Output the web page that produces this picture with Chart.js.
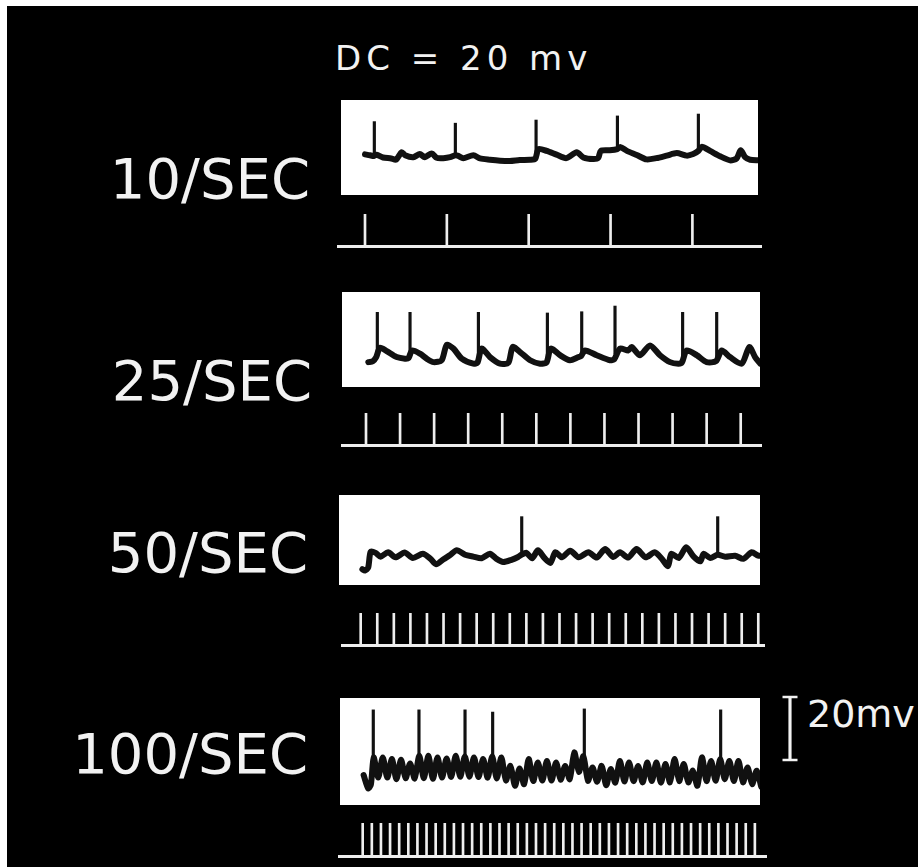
<!DOCTYPE html>
<html>
<head>
<meta charset="utf-8">
<title>Responses at four stimulus rates</title>
<script src="https://cdn.jsdelivr.net/npm/chart.js@4.4.1/dist/chart.umd.min.js"></script>
<style>
  html, body { margin: 0; padding: 0; background: #fff; }
  #stage { position: relative; width: 918px; height: 867px; background: #fff; overflow: hidden; }
  #black { position: absolute; left: 7px; top: 6px; right: 0; bottom: 0; background: #000; }
  canvas { position: absolute; }
  .label { position: absolute; color: #f2f2f2; font-family: "DejaVu Sans", sans-serif; line-height: 1; white-space: nowrap; }
  .rate { left: 0; width: 310px; text-align: right; font-size: 56px; }
</style>
</head>
<body>
<div id="stage">
  <div id="black"></div>
  <div class="label" style="left:335px; top:41px; font-size:34px; letter-spacing:5px;">DC = 20 mv</div>
  <div class="label rate" style="top:151px;">10/SEC</div>
  <div class="label rate" style="top:353px; width:312px;">25/SEC</div>
  <div class="label rate" style="top:525px; width:308px;">50/SEC</div>
  <div class="label rate" style="top:726px; width:308px;">100/SEC</div>
  <div class="label" style="left:807px; top:695px; font-size:38px;">20mv</div>
</div>

<script>
// ---- data (time in ms from first stimulus, potential in mV above panel floor) ----
const rateLabels = ["10/SEC", "25/SEC", "50/SEC", "100/SEC"];

// stimulus times (ms)
const stim10 = [0, 100, 200, 300, 400];
const stim25 = [0, 40, 80, 120, 160, 200, 240, 280, 320, 360, 400, 440];
const stim50 = [0, 20, 40, 60, 80, 100, 120, 140, 160, 180, 200, 220, 240,
  260, 280, 300, 320, 340, 360, 380, 400, 420, 440, 460, 480];
const stim100 = [0, 10, 20, 30, 40, 50, 60, 70, 80, 90, 100, 110, 120, 130,
  140, 150, 160, 170, 180, 190, 200, 210, 220, 230, 240, 250, 260, 270, 280,
  290, 300, 310, 320, 330, 340, 350, 360, 370, 380, 390, 400, 410, 420, 430];

// slow membrane trace [t, mV]
const trace10 = [[0, 12.9], [6, 12.6], [11, 12.4], [14, 12.8], [22, 11.9], [32, 11.6],
  [38, 11.2], [44.8, 13.6], [49, 12.6], [59, 12.0], [67, 13.0], [73, 12.0], [81.5, 13.2],
  [87.6, 11.8], [95.7, 11.7], [104, 12.0], [110.4, 12.6], [114, 12.4], [120, 11.7],
  [132.4, 12.6], [140.5, 11.6], [152.7, 11.2], [165, 10.9], [177, 10.8], [189, 11.1],
  [201.6, 11.2], [208, 11.5], [212, 14.6], [222, 14.0], [234, 12.8], [246, 11.7],
  [258.7, 13.6], [266.8, 11.9], [279, 11.4], [285, 11.8], [288, 14.0], [299, 14.2],
  [308.4, 14.6], [312, 15.2], [320, 14.0], [332, 12.7], [344, 11.3], [356, 11.7],
  [368.6, 12.5], [380.9, 13.3], [393, 12.5], [401, 13.0], [407.3, 14.0], [411.4, 15.3],
  [421.6, 14.0], [433.8, 12.3], [446, 11.0], [454, 11.6], [459, 14.2], [464.4, 12.0],
  [470.5, 11.2], [481, 11.0]];

const trace25 = [[2.7, 7.9], [8, 8.2], [12, 9.5], [16.4, 12.5], [24.3, 11.4], [36, 9.5],
  [45.8, 9.0], [50, 9.2], [54, 11.6], [63.4, 10.6], [71.2, 9.0], [79.1, 7.9], [88.9, 8.5],
  [94.8, 13.4], [102.6, 12.2], [112.4, 9.0], [126, 7.4], [131, 7.8], [135.8, 12.2],
  [145.6, 9.5], [157.4, 7.4], [167.2, 7.7], [172.3, 12.7], [180.9, 11.1], [192.7, 8.5],
  [204.4, 7.4], [212, 7.8], [217, 12.2], [227.8, 10.1], [239.5, 8.5], [249.3, 9.5],
  [252.5, 9.8], [257.2, 11.6], [270.9, 10.1], [286.6, 8.5], [291.5, 8.8], [298.3, 12.2],
  [308, 11.6], [312, 12.7], [321.7, 10.1], [333.5, 13.2], [345.2, 10.1], [357, 7.9],
  [366.8, 7.4], [371, 7.8], [376.5, 11.6], [388.3, 10.1], [400, 7.9], [411, 8.2],
  [417.7, 11.6], [427.5, 9.5], [441.2, 7.4], [450.2, 12.7], [456.9, 9.5], [463, 7.4]];

const trace50 = [[2, 5.0], [5, 4.6], [9, 5.5], [12, 10.5], [18, 10.2], [24, 9.0], [33, 10.4],
  [42, 8.8], [53, 10.3], [63, 8.6], [75, 9.9], [84, 8.4], [91, 6.6], [100, 8.2], [108, 9.5],
  [116, 11.0], [126, 9.6], [136, 9.0], [146, 8.5], [156, 9.9], [164, 8.3], [172, 7.3],
  [182, 8.0], [190, 8.9], [194, 9.6], [200, 10.2], [207, 8.5], [214, 11.0], [222, 8.5],
  [229, 7.0], [235, 10.4], [243, 8.8], [253, 10.9], [263, 8.8], [275, 10.4], [285, 8.7],
  [295, 11.4], [305, 8.9], [313, 10.4], [323, 8.7], [333, 11.4], [344, 8.8], [355, 10.4],
  [363, 8.5], [371, 6.0], [375, 9.9], [384, 8.6], [393, 12.0], [402, 9.0], [410, 7.5],
  [414, 9.9], [422, 8.6], [431, 9.6], [440, 9.0], [452, 9.3], [462, 8.3], [472, 10.4],
  [480, 9.3], [484, 9.3]];

const trace100 = [[1, 9.5], [6, 5.3], [9, 6.5], [12, 15.1], [17, 8.7], [22, 15.1], [27, 8.7],
  [32, 14.6], [37, 8.2], [42, 14.4], [47, 8.5], [52, 13.2], [57, 8.4], [62, 15.6], [67, 8.5],
  [72, 15.6], [77, 8.3], [82, 15.1], [87, 8.7], [92, 14.8], [97, 8.9], [102, 15.6], [107, 9.0],
  [112, 15.4], [117, 9.0], [122, 15.1], [127, 8.9], [132, 14.6], [137, 8.7], [142, 15.4],
  [147, 8.4], [152, 15.1], [157, 7.8], [162, 12.4], [167, 6.1], [172, 11.6], [177, 6.6],
  [182, 14.6], [187, 7.6], [192, 13.5], [197, 7.8], [202, 14.0], [207, 7.8], [212, 13.5],
  [217, 8.0], [222, 12.4], [227, 8.2], [232, 16.7], [237, 10.5], [242, 15.5], [247, 7.7],
  [252, 11.9], [257, 7.4], [262, 12.4], [267, 6.3], [272, 11.4], [277, 7.1], [282, 14.0],
  [287, 7.5], [292, 13.5], [297, 7.6], [302, 12.4], [307, 7.2], [312, 13.5], [317, 7.6],
  [322, 13.5], [327, 7.1], [332, 13.0], [337, 7.2], [342, 14.6], [347, 7.6], [352, 13.0],
  [357, 7.2], [362, 10.9], [367, 6.1], [372, 15.1], [377, 7.6], [382, 14.0], [387, 7.7],
  [392, 14.5], [397, 8.2], [402, 14.0], [407, 7.6], [412, 14.0], [417, 7.2], [422, 11.9],
  [427, 6.6], [432, 10.9], [437, 5.8]];

// action-potential spikes [t, from mV, to mV]
const spikes10 = [[11.4, 12.5, 23.3], [110.4, 12.3, 22.8], [209, 12.0, 23.8],
  [308.4, 14.5, 25.1], [407.3, 14.5, 25.7]];
const spikes25 = [[13.3, 10, 23.7], [51.7, 10, 23.7], [132, 9, 23.7], [213, 9.5, 23.5],
  [253.3, 10, 23.9], [292.4, 10.5, 25.7], [371.8, 9.5, 23.7], [411.8, 9.5, 23.7]];
const spikes50 = [[194.4, 9.6, 21.7], [431, 9.6, 21.7]];
const spikes100 = [[11.6, 12, 30.2], [61.7, 13, 30.2], [112.2, 13, 30.2],
  [142.5, 13, 29.5], [243, 14, 30.5], [392.5, 12.5, 30.2]];

// calibration bar
const calibrationMv = [20];

// ---- layout (page pixels) ----
const PX_PER_MV = 3.15;
const rows = [
  { trace: trace10, spikes: spikes10, stim: stim10, t0: 365, pxPerMs: 0.8185,
    panel: { x: 341, y: 100, w: 417, h: 95 }, base: { x1: 337, x2: 762, y: 246, top: 214 } },
  { trace: trace25, spikes: spikes25, stim: stim25, t0: 366, pxPerMs: 0.8516,
    panel: { x: 342, y: 292, w: 418, h: 95 }, base: { x1: 341, x2: 762, y: 445, top: 413 } },
  { trace: trace50, spikes: spikes50, stim: stim50, t0: 360.7, pxPerMs: 0.8283,
    panel: { x: 339, y: 495, w: 421, h: 90 }, base: { x1: 341, x2: 765, y: 645, top: 613 } },
  { trace: trace100, spikes: spikes100, stim: stim100, t0: 362.7, pxPerMs: 0.912,
    panel: { x: 340, y: 698, w: 420, h: 107 }, base: { x1: 338, x2: 767, y: 856, top: 823 } },
];

const stage = document.getElementById("stage");

function addCanvas(x, y, w, h, bg) {
  const c = document.createElement("canvas");
  c.width = w;
  c.height = h;
  c.style.left = x + "px";
  c.style.top = y + "px";
  c.style.width = w + "px";
  c.style.height = h + "px";
  if (bg) c.style.background = bg;
  stage.appendChild(c);
  return c;
}

// shared options: static picture, nothing interactive
const quiet = {
  responsive: false,
  animation: false,
  events: [],
  devicePixelRatio: 1,
  plugins: { legend: { display: false }, tooltip: { enabled: false } },
};

rows.forEach((row) => {
  // time range that the pixel box covers
  const toMs = (px) => (px - row.t0) / row.pxPerMs;

  // white record panel with trace and spikes
  const p = row.panel;
  new Chart(addCanvas(p.x, p.y, p.w, p.h, "#fff"), {
    type: "line",
    data: {
      datasets: [
        {
          type: "line",
          data: row.trace.map(([t, v]) => ({ x: t, y: v })),
          borderColor: "#111",
          borderWidth: 6,
          pointRadius: 0,
          tension: 0.25,
          borderJoinStyle: "round",
          borderCapStyle: "round",
        },
        {
          type: "bar",
          data: row.spikes.map(([t, lo, hi]) => ({ x: t, y: [lo, hi] })),
          backgroundColor: "#111",
          barThickness: 2.5,
        },
      ],
    },
    options: {
      ...quiet,
      // chart area = whole canvas, so the pixel mapping stays exact
      layout: { padding: 0, autoPadding: false },
      scales: {
        // the bar dataset would otherwise switch on a category-style offset
        x: { type: "linear", display: false, offset: false, min: toMs(p.x), max: toMs(p.x + p.w) },
        y: { display: false, min: 0, max: p.h / PX_PER_MV },
      },
    },
  });

  // stimulus marker row, the x axis line is the baseline
  const b = row.base;
  const h = b.y - b.top + 3;
  new Chart(addCanvas(b.x1, b.top, b.x2 - b.x1, h), {
    type: "bar",
    data: {
      datasets: [
        {
          data: row.stim.map((t) => ({ x: t, y: 1 })),
          backgroundColor: "#eee",
          barThickness: 2,
        },
      ],
    },
    options: {
      ...quiet,
      layout: { padding: { bottom: 3 }, autoPadding: false },
      scales: {
        x: {
          type: "linear",
          min: toMs(b.x1),
          max: toMs(b.x2),
          offset: false,
          ticks: { display: false },
          grid: { display: false, drawTicks: false },
          border: { display: true, color: "#eee", width: 3 },
        },
        y: { display: false, min: 0, max: 1 },
      },
    },
  });
});

// 20 mV calibration bar, same mV scale as the panels
const cal = { x: 775, y: 690, w: 30, h: 77, zeroY: 760 };
new Chart(addCanvas(cal.x, cal.y, cal.w, cal.h), {
  type: "bar",
  data: {
    datasets: [
      {
        type: "bar",
        data: [{ x: 0, y: [0, calibrationMv[0]] }],
        backgroundColor: "#f2f2f2",
        barThickness: 2.5,
      },
      {
        type: "scatter",
        data: [{ x: 0, y: 0 }, { x: 0, y: calibrationMv[0] }],
        pointStyle: "line",
        pointRadius: 7.5,
        borderColor: "#f2f2f2",
        borderWidth: 2.5,
      },
    ],
  },
  options: {
    ...quiet,
    layout: { padding: 0, autoPadding: false },
    scales: {
      x: { type: "linear", display: false, min: -1, max: 1, offset: false },
      y: {
        display: false,
        min: -(cal.y + cal.h - cal.zeroY) / PX_PER_MV,
        max: (cal.zeroY - cal.y) / PX_PER_MV,
      },
    },
  },
});
</script>
</body>
</html>
